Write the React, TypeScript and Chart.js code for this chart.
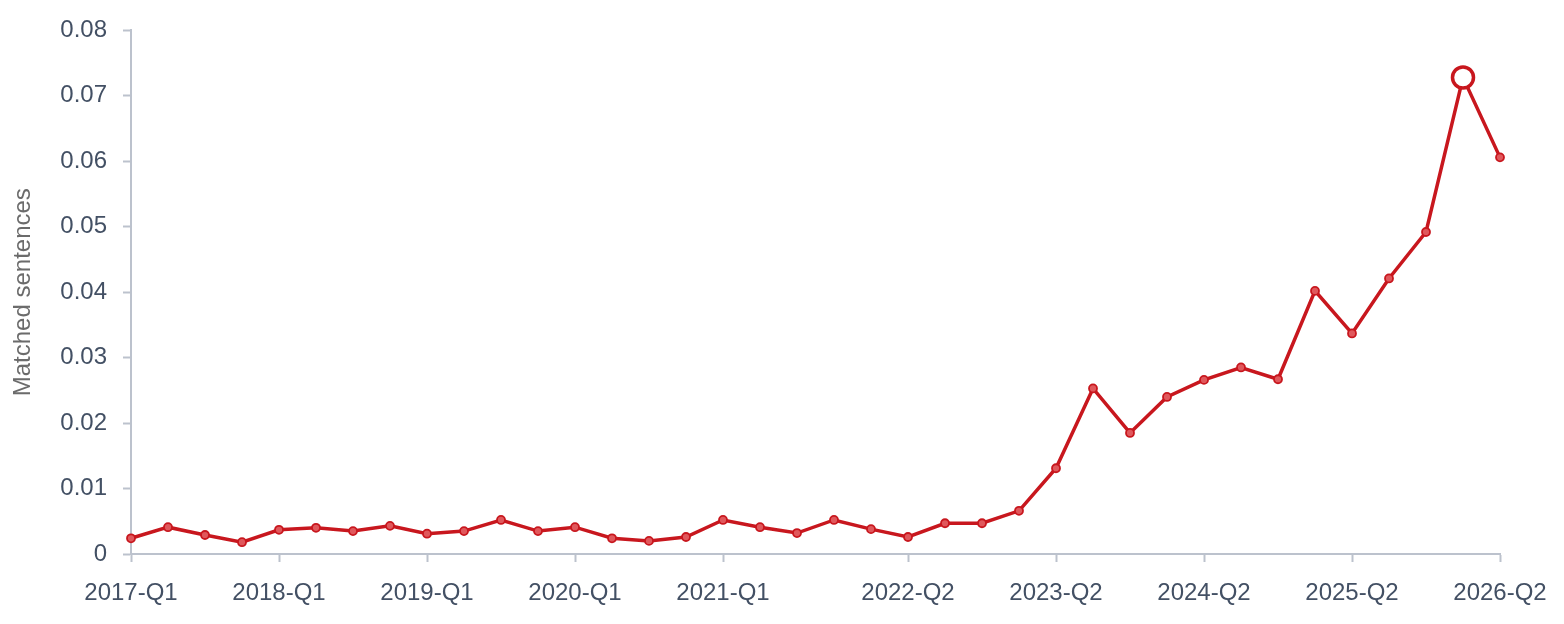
import React, { useEffect, useRef } from "react";
import { Chart, registerables } from "chart.js";

Chart.register(...registerables);

const quarters: string[] = [
  "2017-Q1", "2017-Q2", "2017-Q3", "2017-Q4",
  "2018-Q1", "2018-Q2", "2018-Q3", "2018-Q4",
  "2019-Q1", "2019-Q2", "2019-Q3", "2019-Q4",
  "2020-Q1", "2020-Q2", "2020-Q3", "2020-Q4",
  "2021-Q1", "2021-Q2", "2021-Q3", "2021-Q4",
  "2022-Q1", "2022-Q2", "2022-Q3", "2022-Q4",
  "2023-Q1", "2023-Q2", "2023-Q3", "2023-Q4",
  "2024-Q1", "2024-Q2", "2024-Q3", "2024-Q4",
  "2025-Q1", "2025-Q2", "2025-Q3", "2025-Q4",
  "2026-Q1", "2026-Q2",
];

const matchedSentences: number[] = [
  0.0024, 0.0041, 0.0029, 0.0018,
  0.0037, 0.0040, 0.0035, 0.0043,
  0.0031, 0.0035, 0.0052, 0.0035,
  0.0041, 0.0024, 0.0020, 0.0026,
  0.0052, 0.0041, 0.0032, 0.0052,
  0.0038, 0.0026, 0.0047, 0.0047,
  0.0066, 0.0131, 0.0253, 0.0185,
  0.0240, 0.0266, 0.0285, 0.0267,
  0.0402, 0.0337, 0.0421, 0.0492,
  0.0728, 0.0606,
];

const shownTickLabels: string[] = [
  "2017-Q1", "2018-Q1", "2019-Q1", "2020-Q1", "2021-Q1",
  "2022-Q2", "2023-Q2", "2024-Q2", "2025-Q2", "2026-Q2",
];

const highlightedQuarter = "2026-Q1";

const RED = "#c8171e";
const AXIS = "#bcc2cd";
const TICK_TEXT = "#435064";
const FONT = "'Liberation Sans', Arial, Helvetica, sans-serif";

export default function App() {
  const ref = useRef<HTMLCanvasElement | null>(null);

  useEffect(() => {
    document.body.style.margin = "0";
    const ctx = ref.current;
    if (!ctx) return;
    const hi = quarters.indexOf(highlightedQuarter);
    const chart = new Chart(ctx, {
      type: "line",
      data: {
        labels: quarters,
        datasets: [
          {
            label: "Matched sentences",
            data: matchedSentences,
            borderColor: RED,
            borderWidth: 3.5,
            tension: 0,
            pointRadius: quarters.map((_, i) => (i === hi ? 10.5 : 4)),
            pointBorderWidth: quarters.map((_, i) => (i === hi ? 3.5 : 1.8)),
            pointBackgroundColor: quarters.map((_, i) => (i === hi ? "#ffffff" : "#e0585c")),
            pointBorderColor: RED,
          },
        ],
      },
      options: {
        animation: false,
        responsive: false,
        maintainAspectRatio: false,
        layout: { padding: { top: 30, right: 64, left: 0, bottom: 0 } },
        plugins: {
          legend: { display: false },
          tooltip: { enabled: false },
        },
        scales: {
          x: {
            offset: false,
            border: { display: true, color: AXIS, width: 2 },
            grid: {
              drawOnChartArea: false,
              drawTicks: true,
              tickLength: 8,
              tickWidth: 2,
              tickColor: AXIS,
              color: AXIS,
            },
            ticks: {
              autoSkip: false,
              maxRotation: 0,
              padding: 17,
              color: TICK_TEXT,
              font: { family: FONT, size: 24 },
              callback: function (_v: any, i: number) {
                const l = quarters[i];
                return shownTickLabels.includes(l) ? l : null;
              },
            },
            afterFit: (s: any) => {
              s.height = 70;
            },
          },
          y: {
            min: 0,
            max: 0.08,
            border: { display: true, color: AXIS, width: 2 },
            grid: {
              drawOnChartArea: false,
              drawTicks: true,
              tickLength: 8,
              tickWidth: 2,
              tickColor: AXIS,
              color: AXIS,
            },
            ticks: {
              stepSize: 0.01,
              padding: 16,
              color: TICK_TEXT,
              font: { family: FONT, size: 24 },
            },
            title: {
              display: true,
              text: "Matched sentences",
              color: "#6b6b6b",
              font: { family: FONT, size: 24 },
              padding: { top: 9, bottom: 4 },
            },
            afterFit: (s: any) => {
              s.width = 131;
            },
          },
        },
      },
    });
    return () => chart.destroy();
  }, []);

  return (
    <div style={{ position: "absolute", left: 0, top: 0, width: 1564, height: 624, background: "#fff" }}>
      <canvas ref={ref} width={1564} height={624} style={{ width: 1564, height: 624 }} />
    </div>
  );
}
